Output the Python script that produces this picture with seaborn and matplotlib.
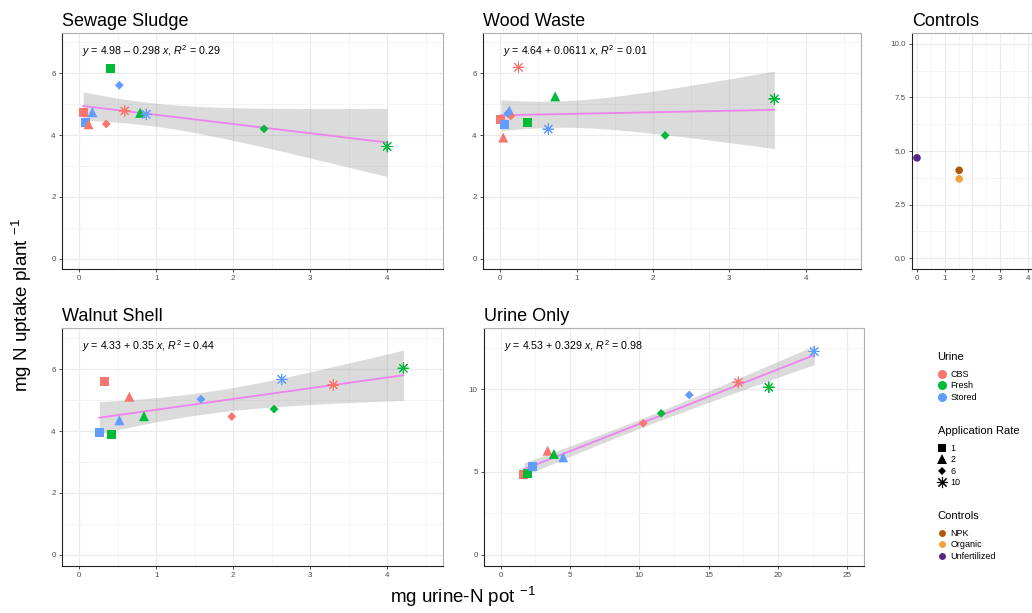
import matplotlib
matplotlib.use("Agg")
import matplotlib.pyplot as plt
import seaborn as sns
import numpy as np
import pandas as pd
from matplotlib.ticker import MultipleLocator, AutoMinorLocator
from matplotlib.lines import Line2D

# ---------------- data ----------------
urine_types = ["CBS", "Fresh", "Stored"]
rates = ["1", "2", "6", "10"]

# order: CBS(1,2,6,10), Fresh(1,2,6,10), Stored(1,2,6,10)
sewage_x = [0.05, 0.12, 0.35, 0.59, 0.40, 0.79, 2.40, 4.00, 0.08, 0.17, 0.52, 0.87]
sewage_y = [4.74, 4.35, 4.36, 4.78, 6.16, 4.72, 4.20, 3.63, 4.40, 4.74, 5.61, 4.67]

wood_x = [0.01, 0.04, 0.14, 0.24, 0.36, 0.72, 2.16, 3.59, 0.06, 0.12, 0.10, 0.63]
wood_y = [4.51, 3.92, 4.62, 6.19, 4.40, 5.25, 3.99, 5.17, 4.35, 4.79, 4.70, 4.19]

walnut_x = [0.33, 0.65, 1.98, 3.30, 0.42, 0.84, 2.53, 4.21, 0.26, 0.52, 1.58, 2.63]
walnut_y = [5.60, 5.11, 4.47, 5.49, 3.90, 4.48, 4.71, 6.03, 3.95, 4.35, 5.03, 5.67]

urine_x = [1.68, 3.39, 10.28, 17.13, 1.92, 3.84, 11.58, 19.34, 2.28, 4.51, 13.60, 22.61]
urine_y = [4.82, 6.28, 7.94, 10.42, 4.91, 6.08, 8.54, 10.12, 5.31, 5.88, 9.65, 12.28]

control_names = ["NPK", "Organic", "Unfertilized"]
control_x = [1.52, 1.52, 0.0]
control_y = [4.10, 3.70, 4.68]

panel_titles = ["Sewage Sludge", "Wood Waste", "Walnut Shell", "Urine Only"]
eq_labels = [
    "$y$ = 4.98 \u2013 0.298 $x$, $R^2$ = 0.29",
    "$y$ = 4.64 + 0.0611 $x$, $R^2$ = 0.01",
    "$y$ = 4.33 + 0.35 $x$, $R^2$ = 0.44",
    "$y$ = 4.53 + 0.329 $x$, $R^2$ = 0.98",
]

# ---------------- style ----------------
plt.rcParams["font.family"] = ["Liberation Sans", "DejaVu Sans"]
plt.rcParams["mathtext.fontset"] = "custom"
plt.rcParams["mathtext.rm"] = "Liberation Sans"
plt.rcParams["mathtext.it"] = "Liberation Sans:italic"

urine_pal = {"CBS": "#F8766D", "Fresh": "#00BA38", "Stored": "#619CFF"}
control_pal = {"NPK": "#B35806", "Organic": "#F1A340", "Unfertilized": "#542788"}
rate_marker = {"1": "s", "2": "^", "6": "D", "10": (8, 2, 0)}
rate_size = {"1": 42, "2": 52, "6": 20, "10": 60}
T975_DF10 = 2.228  # Student t quantile for a 95% band with 12 points

W, H = 1032, 613
fig = plt.figure(figsize=(W / 100, H / 100), dpi=100)


def rect(l, t, r, b):
    return [l / W, 1 - b / H, (r - l) / W, (b - t) / H]


def style_axes(ax, xlim, ylim, xmaj, ymaj, yfmt=None):
    ax.set_facecolor("white")
    ax.set_xlim(*xlim)
    ax.set_ylim(*ylim)
    ax.xaxis.set_major_locator(MultipleLocator(xmaj))
    ax.yaxis.set_major_locator(MultipleLocator(ymaj))
    ax.xaxis.set_minor_locator(AutoMinorLocator(2))
    ax.yaxis.set_minor_locator(AutoMinorLocator(2))
    ax.grid(which="major", color="#EBEBEB", linewidth=0.9)
    ax.grid(which="minor", color="#F3F3F3", linewidth=0.6)
    ax.set_axisbelow(True)
    ax.tick_params(which="major", length=2.5, width=0.6, color="#333333",
                   labelsize=5.8, labelcolor="#4D4D4D", pad=2)
    ax.tick_params(which="minor", length=0)
    for s in ["top", "right"]:
        ax.spines[s].set_color("#B0B0B0")
        ax.spines[s].set_linewidth(0.8)
    for s in ["left", "bottom"]:
        ax.spines[s].set_color("#222222")
        ax.spines[s].set_linewidth(0.8)
    if yfmt:
        ax.yaxis.set_major_formatter(yfmt)
    ax.set_xlabel("")
    ax.set_ylabel("")


def conf_band(ax, x, y):
    x = np.asarray(x, float)
    y = np.asarray(y, float)
    n = len(x)
    b1, b0 = np.polyfit(x, y, 1)
    resid = y - (b0 + b1 * x)
    s = np.sqrt(np.sum(resid ** 2) / (n - 2))
    sxx = np.sum((x - x.mean()) ** 2)
    grid = np.linspace(x.min(), x.max(), 100)
    yhat = b0 + b1 * grid
    se = s * np.sqrt(1 / n + (grid - x.mean()) ** 2 / sxx)
    ax.fill_between(grid, yhat - T975_DF10 * se, yhat + T975_DF10 * se,
                    color="#999999", alpha=0.35, linewidth=0, zorder=2)


panels = [
    (sewage_x, sewage_y, rect(62, 33, 443, 269), (-0.225, 4.725), (-0.33, 7.3), 1, 2),
    (wood_x, wood_y, rect(483, 33, 861, 269), (-0.225, 4.725), (-0.33, 7.3), 1, 2),
    (walnut_x, walnut_y, rect(62, 328, 443, 566), (-0.225, 4.725), (-0.36, 7.33), 1, 2),
    (urine_x, urine_y, rect(484, 328, 864, 566), (-1.2, 26.2), (-0.69, 13.7), 5, 5),
]

for i, (xs, ys, pos, xl, yl, xm, ym) in enumerate(panels):
    ax = fig.add_axes(pos)
    df = pd.DataFrame({
        "Urine": np.repeat(urine_types, len(rates)),
        "Rate": rates * len(urine_types),
        "x": xs,
        "y": ys,
    })
    conf_band(ax, xs, ys)
    sns.regplot(data=df, x="x", y="y", ax=ax, scatter=False, color="violet",
                ci=None, line_kws={"linewidth": 1.3, "zorder": 3})
    for r in rates:
        sub = df[df["Rate"] == r]
        lw = 0.7 if r == "10" else 0
        sns.scatterplot(data=sub, x="x", y="y", hue="Urine", palette=urine_pal,
                        marker=rate_marker[r], s=rate_size[r], linewidth=lw,
                        legend=False, ax=ax, zorder=4)
    style_axes(ax, xl, yl, xm, ym)
    ax.set_title(panel_titles[i], loc="left", fontsize=13, pad=5)
    ax.text(0.052, 0.922, eq_labels[i], transform=ax.transAxes, fontsize=7.7,
            ha="left", va="center", color="black")

# Controls panel (cropped at the right edge of the figure)
axc = fig.add_axes(rect(912, 33, 1041, 269))
cdf = pd.DataFrame({"Controls": control_names, "x": control_x, "y": control_y})
sns.scatterplot(data=cdf, x="x", y="y", hue="Controls", palette=control_pal,
                marker="o", s=30, linewidth=0, legend=False, ax=axc, zorder=4)
style_axes(axc, (-0.18, 4.47), (-0.5, 10.5), 1, 2.5,
           yfmt=matplotlib.ticker.FormatStrFormatter("%.1f"))
axc.set_title("Controls", loc="left", fontsize=13, pad=5)

# axis titles
fig.text(0.021, 0.502, "mg N uptake plant $^{-1}$", rotation=90, ha="center",
         va="center", fontsize=13.5)
fig.text(0.449, 0.026, "mg urine-N pot $^{-1}$", ha="center", va="center", fontsize=13.5)

# legends
lkw = dict(loc="upper left", frameon=False, fontsize=6.5, title_fontsize=8,
           alignment="left", handletextpad=0.4, labelspacing=0.27,
           handlelength=1.0, borderpad=0)
h1 = [Line2D([], [], marker="o", ls="", color=urine_pal[u], markersize=6.5,
             markeredgewidth=0) for u in urine_types]
leg1 = fig.legend(h1, urine_types, title="Urine", bbox_to_anchor=(933 / W, 1 - 347 / H), **lkw)
h2 = []
for r in rates:
    if r == "10":
        h2.append(Line2D([], [], marker=rate_marker[r], ls="", color="black",
                         markersize=8, markeredgewidth=0.8))
    else:
        h2.append(Line2D([], [], marker=rate_marker[r], ls="", color="black",
                         markersize={"1": 6, "2": 6.5, "6": 4.2}[r], markeredgewidth=0))
leg2 = fig.legend(h2, rates, title="Application Rate",
                  bbox_to_anchor=(933 / W, 1 - 421 / H), **lkw)
h3 = [Line2D([], [], marker="o", ls="", color=control_pal[c], markersize=5,
             markeredgewidth=0) for c in control_names]
leg3 = fig.legend(h3, control_names, title="Controls",
                  bbox_to_anchor=(933 / W, 1 - 506 / H), **lkw)
for lg in (leg1, leg2, leg3):
    lg._legend_box.sep = 6

fig.savefig("out.png", dpi=100, facecolor="white")
